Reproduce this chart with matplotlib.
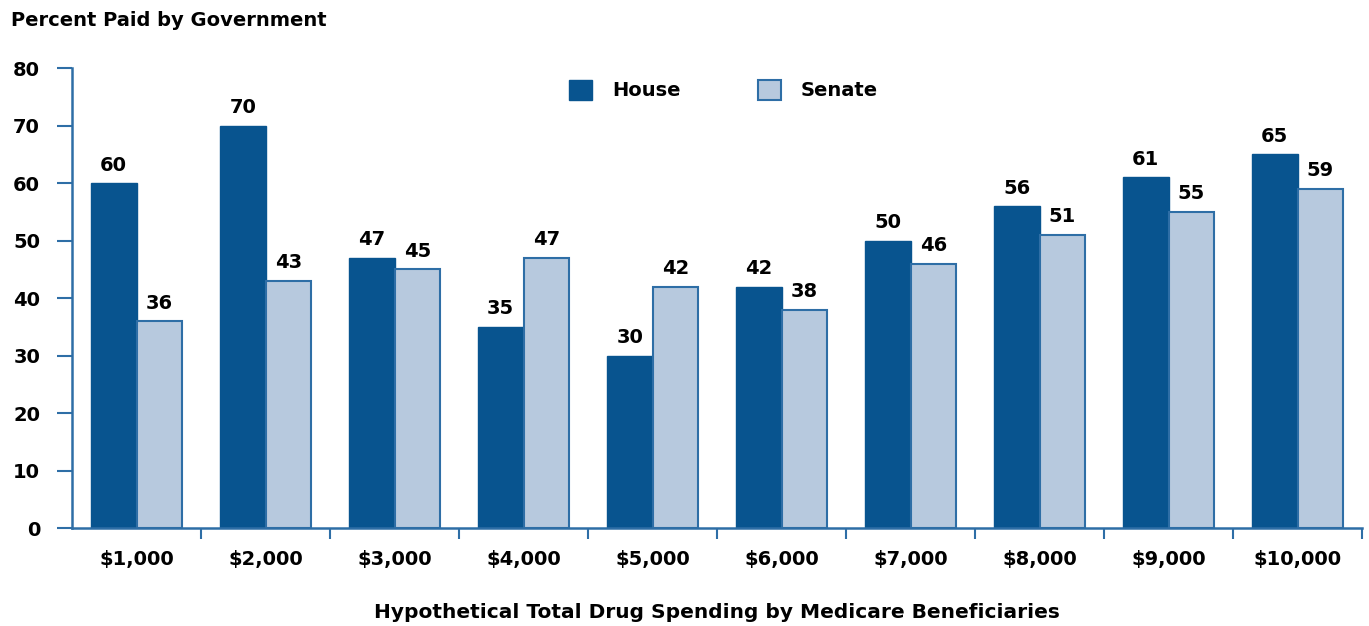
import numpy as np
import matplotlib.pyplot as plt

categories = ['$1,000', '$2,000', '$3,000', '$4,000', '$5,000',
              '$6,000', '$7,000', '$8,000', '$9,000', '$10,000']
house = [60, 70, 47, 35, 30, 42, 50, 56, 61, 65]
senate = [36, 43, 45, 47, 42, 38, 46, 51, 55, 59]

house_color = '#08548f'
senate_color = '#b7c9de'
line_color = '#2e6ea6'

plt.rcParams['font.family'] = ['DejaVu Sans']
plt.rcParams['font.weight'] = 'bold'

fig = plt.figure(figsize=(13.69, 6.26), dpi=100)
ax = fig.add_axes([0.0526, 0.1565, 0.9423, 0.7348])

x = np.arange(len(categories)) + 0.5
w = 0.353
b1 = ax.bar(x - w / 2, house, w, color=house_color, edgecolor=house_color,
            linewidth=1, label='House', zorder=2)
b2 = ax.bar(x + w / 2, senate, w, color=senate_color, edgecolor=line_color,
            linewidth=1.5, label='Senate', zorder=2)

# подписи значений над столбцами
for bars in (b1, b2):
    for bar in bars:
        h = bar.get_height()
        ax.annotate(f'{int(h)}', (bar.get_x() + bar.get_width() / 2, h),
                    xytext=(0, 6), textcoords='offset points',
                    ha='center', va='bottom', fontsize=14, fontweight='bold')

ax.set_xlim(0, len(categories))
ax.set_ylim(0, 80)
ax.set_yticks(range(0, 81, 10))
ax.set_xticks(x)
ax.set_xticklabels(categories)
ax.set_xticks(np.arange(1, len(categories) + 1), minor=True)
ax.tick_params(axis='x', which='major', length=0, pad=16, labelsize=14)
ax.tick_params(axis='x', which='minor', length=8, width=1.5, color=line_color)
ax.tick_params(axis='y', length=11, width=1.5, color=line_color, labelsize=14, pad=12)
for lab in ax.get_xticklabels() + ax.get_yticklabels():
    lab.set_fontweight('bold')

for s in ('top', 'right'):
    ax.spines[s].set_visible(False)
for s in ('left', 'bottom'):
    ax.spines[s].set_color(line_color)
    ax.spines[s].set_linewidth(1.8)

ax.set_xlabel('Hypothetical Total Drug Spending by Medicare Beneficiaries',
              fontsize=14.5, fontweight='bold', labelpad=24)
fig.text(0.008, 0.968, 'Percent Paid by Government', fontsize=14,
         fontweight='bold', ha='left', va='center')

ax.legend(loc='center', bbox_to_anchor=(0.505, 0.952), ncol=2, frameon=False,
          fontsize=14, handlelength=1.2, handleheight=1.2, columnspacing=4,
          handletextpad=1.0)

fig.savefig('out.png', dpi=100)
